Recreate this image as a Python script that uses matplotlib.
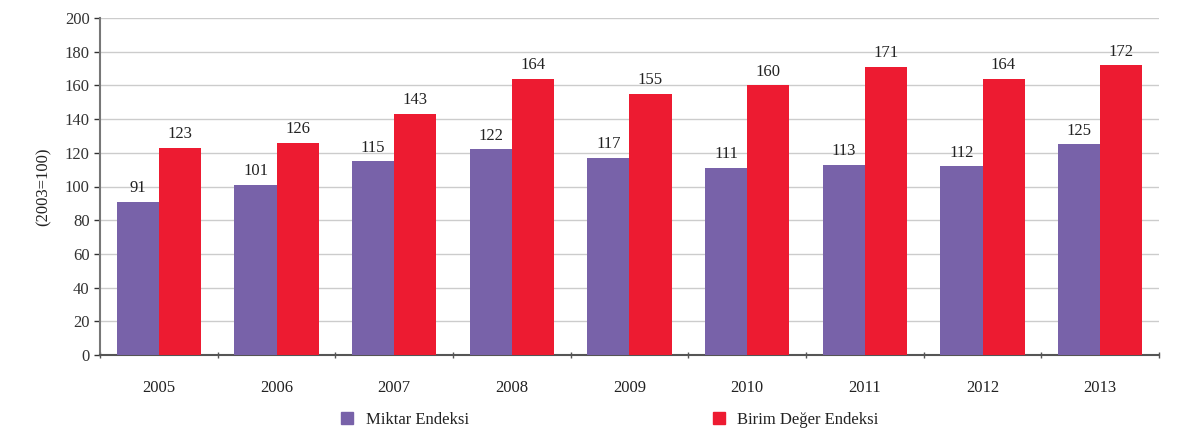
import numpy as np
import matplotlib.pyplot as plt
from matplotlib.lines import Line2D

# Data
years = ["2005", "2006", "2007", "2008", "2009", "2010", "2011", "2012", "2013"]
miktar = [91, 101, 115, 122, 117, 111, 113, 112, 125]
birim = [123, 126, 143, 164, 155, 160, 171, 164, 172]

purple = "#7862a9"
red = "#ed1b31"

plt.rcParams["font.family"] = ["Liberation Serif", "DejaVu Serif"]

fig = plt.figure(figsize=(11.86, 4.46), dpi=100)
ax = fig.add_axes([100 / 1186, 1 - 355 / 446, 1059 / 1186, 337 / 446])

x = np.arange(len(years))
w = 0.357
b1 = ax.bar(x - w / 2, miktar, w, color=purple, zorder=3)
b2 = ax.bar(x + w / 2, birim, w, color=red, zorder=3)

# value labels
for bars in (b1, b2):
    for rect in bars:
        h = rect.get_height()
        ax.annotate(f"{h:.0f}", (rect.get_x() + rect.get_width() / 2, h),
                    xytext=(0, 4), textcoords="offset points",
                    ha="center", va="bottom", fontsize=12, color="#222222")

ax.set_xlim(-0.5, len(years) - 0.5)
ax.set_ylim(0, 200)
ax.set_yticks(range(0, 201, 20))
ax.yaxis.grid(True, color="#cccccc", linewidth=1, zorder=0)
ax.tick_params(axis="y", labelsize=12, colors="#333333", length=4, width=1, direction="out")

# category ticks on boundaries, labels centered
ax.set_xticks(x)
ax.set_xticklabels(years, fontsize=12, color="#222222")
ax.set_xticks(np.arange(-0.5, len(years), 1), minor=True)
ax.tick_params(axis="x", which="major", length=0, pad=18)
ax.tick_params(axis="x", which="minor", length=5, width=1, color="#555555", direction="inout")

for s in ("top", "right"):
    ax.spines[s].set_visible(False)
ax.spines["left"].set_color("#777777")
ax.spines["left"].set_linewidth(1.5)
ax.spines["bottom"].set_color("#555555")
ax.spines["bottom"].set_linewidth(1.5)

ax.set_ylabel("(2003=100)", fontsize=12, color="#222222", labelpad=9)

# legend
handles = [
    Line2D([], [], marker="s", linestyle="none", markersize=8, color=purple, label="Miktar Endeksi"),
    Line2D([], [], marker="s", linestyle="none", markersize=8, color=red, label="Birim Değer Endeksi"),
]
fig.legend(handles=handles, loc="center left", bbox_to_anchor=(324 / 1186, 1 - 420 / 446),
           ncol=2, frameon=False, fontsize=12, handlelength=1.0, columnspacing=14.5,
           handletextpad=0.6, labelcolor="#222222")

fig.savefig("out.png", dpi=100)
